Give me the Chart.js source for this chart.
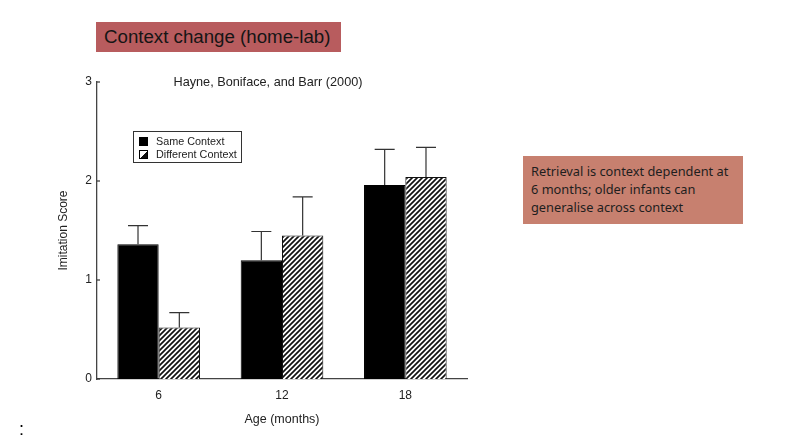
<!DOCTYPE html>
<html>
<head>
<meta charset="utf-8">
<script src="https://cdn.jsdelivr.net/npm/chart.js@4.4.1/dist/chart.umd.min.js"></script>
<style>
  html, body { margin: 0; padding: 0; background: #fff; }
  body { width: 790px; height: 445px; position: relative; overflow: hidden; font-family: "Liberation Sans", Arial, sans-serif; }
  #chart { position: absolute; left: 0; top: 0; }
  .slide-title { position: absolute; left: 96px; top: 22px; width: 245px; height: 30px; background: #b85c5e;
    color: #151515; font-size: 18.7px; line-height: 30px; padding-left: 8px; box-sizing: border-box; white-space: nowrap; }
  .note { position: absolute; left: 523px; top: 156px; width: 220px; height: 68px; background: #c7806f;
    color: #1e1e1e; font-family: "Noto Sans", sans-serif; font-size: 12.8px; line-height: 18px; padding: 6px 0 0 8px; box-sizing: border-box; white-space: nowrap; }
  .cite { position: absolute; left: 148px; top: 75px; width: 240px; text-align: center; font-size: 12.7px; color: #222; }
  .legend { position: absolute; left: 133px; top: 131px; width: 109px; height: 32px; border: 1px solid #333;
    box-sizing: border-box; font-size: 10.8px; color: #222; padding: 3px 0 0 5px; }
  .legend div { height: 12.5px; line-height: 12.5px; white-space: nowrap; }
  .legend span.sw { display: inline-block; width: 9px; height: 9px; border: 1px solid #000; box-sizing: border-box;
    vertical-align: -1px; margin-right: 8px; }
  .colon { position: absolute; left: 19px; top: 419px; font-size: 18px; color: #000; }
</style>
</head>
<body>
<canvas id="chart" width="790" height="445"></canvas>
<div class="slide-title">Context change (home-lab)</div>
<div class="cite">Hayne, Boniface, and Barr (2000)</div>
<div class="legend" id="legend"></div>
<div class="note">Retrieval is context dependent at<br>6 months; older infants can<br>generalise across context</div>
<div class="colon">:</div>
<script>
// ---------- Data ----------
const ageLabels = ['6', '12', '18'];
const seriesNames = ['Same Context', 'Different Context'];
const sameScores = [1.36, 1.20, 1.96];
const sameErrors = [0.19, 0.29, 0.36];
const diffScores = [0.52, 1.45, 2.04];
const diffErrors = [0.15, 0.39, 0.30];
const yTicks = [0, 1, 2, 3];

// ---------- Hatch pattern ----------
function hatchPattern(size = 5) {
    const c = document.createElement('canvas');
    c.width = size; c.height = size;
    const g = c.getContext('2d');
    g.fillStyle = '#fff';
    g.fillRect(0, 0, size, size);
    g.strokeStyle = '#111';
    g.lineWidth = 1.7;
    g.beginPath();
    g.moveTo(0, size); g.lineTo(size, 0);
    g.moveTo(-1, 1); g.lineTo(1, -1);
    g.moveTo(size - 1, size + 1); g.lineTo(size + 1, size - 1);
    g.stroke();
    return g.createPattern(c, 'repeat');
}

// ---------- Error bars + inward ticks ----------
const errorBars = {
    id: 'errorBars',
    afterDatasetsDraw(chart) {
        const { ctx, scales: { y } } = chart;
        ctx.save();
        ctx.strokeStyle = '#333';
        ctx.lineWidth = 1.2;
        chart.data.datasets.forEach((ds, i) => {
            chart.getDatasetMeta(i).data.forEach((bar, j) => {
                const top = y.getPixelForValue(ds.data[j] + ds.errors[j]);
                ctx.beginPath();
                ctx.moveTo(bar.x, bar.y);
                ctx.lineTo(bar.x, top);
                ctx.moveTo(bar.x - 10, top);
                ctx.lineTo(bar.x + 10, top);
                ctx.stroke();
            });
        });
        yTicks.forEach(v => {
            const py = y.getPixelForValue(v);
            ctx.beginPath();
            ctx.moveTo(y.right, py);
            ctx.lineTo(y.right + 3, py);
            ctx.stroke();
        });
        ctx.restore();
    }
};

// ---------- Chart ----------
const font = { family: '"Liberation Sans", Arial, sans-serif', size: 12 };
const hatch = hatchPattern();

new Chart(document.getElementById('chart'), {
    type: 'bar',
    data: {
        labels: ageLabels,
        datasets: [
            { label: seriesNames[0], data: sameScores, errors: sameErrors, backgroundColor: '#000', borderColor: '#000', borderWidth: 1 },
            { label: seriesNames[1], data: diffScores, errors: diffErrors, backgroundColor: hatch, borderColor: '#111', borderWidth: 1 }
        ]
    },
    options: {
        responsive: false,
        animation: false,
        devicePixelRatio: 1,
        layout: { padding: { top: 82, right: 323, bottom: 0, left: 0 } },
        categoryPercentage: 0.67,
        barPercentage: 1,
        plugins: { legend: { display: false }, tooltip: { enabled: false } },
        scales: {
            x: {
                afterFit: s => { s.height = 66; },
                grid: { display: false, drawTicks: false },
                border: { display: true, color: '#444', width: 1.3 },
                ticks: { color: '#222', font, padding: 9 },
                title: { display: true, text: 'Age (months)', color: '#222', font: { ...font, size: 12.5 }, padding: { top: 0, bottom: 18 } }
            },
            y: {
                min: 0, max: 3,
                afterFit: s => { s.width = 97; },
                afterBuildTicks: s => { s.ticks = yTicks.map(v => ({ value: v })); },
                grid: { display: false, drawTicks: false },
                border: { display: true, color: '#444', width: 1.3 },
                ticks: { color: '#222', font, padding: 5 },
                title: { display: true, text: 'Imitation Score', color: '#222', font, padding: { top: 56, bottom: 0 } }
            }
        }
    },
    plugins: [errorBars]
});

// ---------- Legend ----------
const lg = document.getElementById('legend');
seriesNames.forEach((name, i) => {
    const bg = i === 0 ? '#000' : 'linear-gradient(135deg, #fff 0 50%, #111 50% 100%)';
    lg.insertAdjacentHTML('beforeend', `<div><span class="sw" style="background:${bg}"></span>${name}</div>`);
});
</script>
</body>
</html>
